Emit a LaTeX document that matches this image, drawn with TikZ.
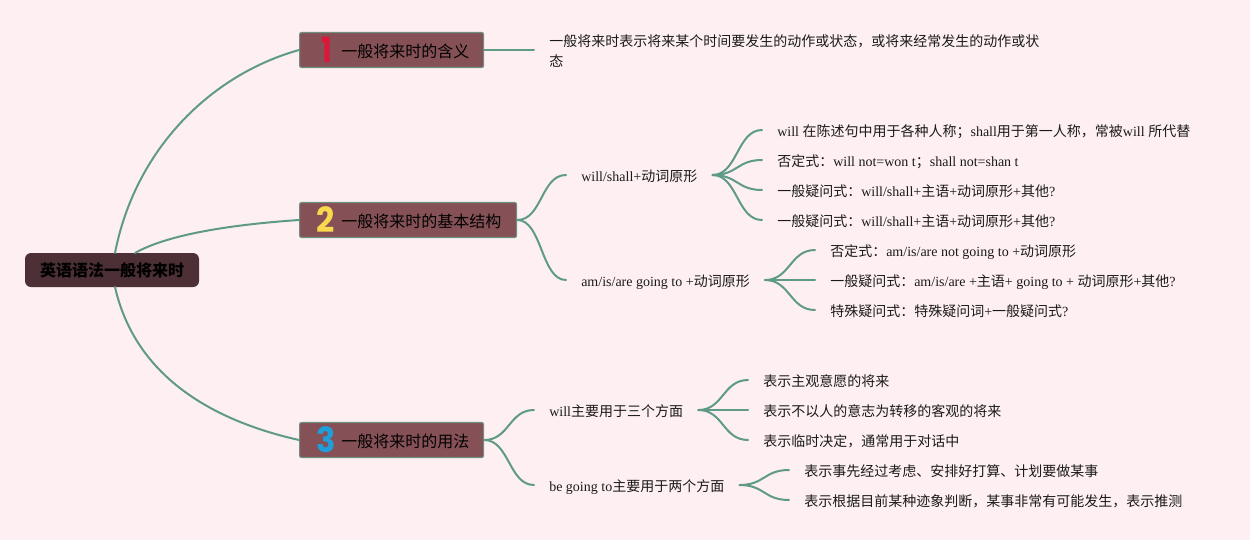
\documentclass[tikz,border=0pt]{standalone}
\usepackage{fontspec}
\usepackage{graphicx}
\setmainfont{Liberation Serif}
\newfontfamily\cjk{Noto Sans CJK SC}
\newfontfamily\numfont{Poppins}
\newcommand{\zh}[1]{{\cjk #1}}
\definecolor{bgc}{HTML}{FEF0F2}
\definecolor{rootc}{HTML}{4D3036}
\definecolor{topicc}{HTML}{855156}
\definecolor{edgec}{HTML}{6F8F80}
\definecolor{linec}{HTML}{5F9A87}
\definecolor{txtc}{HTML}{1A1A1A}
\definecolor{numa}{HTML}{E0153A}
\definecolor{numb}{HTML}{F9D84E}
\definecolor{numc}{HTML}{1E9FDC}
\usetikzlibrary{calc}
\tikzset{
  x=0.75pt,y=-0.75pt,
  rootbox/.style={fill=rootc,rounded corners=4.5pt,inner sep=0pt,font=\cjk\bfseries\fontsize{12}{14}\selectfont,text=black},
  topicbox/.style={fill=topicc,draw=edgec,line width=0.9pt,rounded corners=1.5pt,inner sep=0pt,anchor=west},
  topictext/.style={anchor=west,inner sep=0pt,font=\cjk\fontsize{12}{14}\selectfont,text=black},
  leafbase/.style={anchor=west,inner ysep=0pt,inner xsep=11.25pt,font=\fontsize{10.5}{15}\selectfont,text=txtc,align=left},
  leaf/.style={leafbase,text height=11pt,text depth=2pt},
  conn/.style={draw=linec,line width=1.5pt,line cap=round},
  numstyle/.style={font=\numfont\bfseries\fontsize{26}{26}\selectfont,inner sep=0pt},
}
\newcommand{\fork}[2]{\draw[conn] (#1.east) .. controls ($(#1.east)+(25,0)$) and ($(#2.west)+(-25,0)$) .. (#2.west);}
\begin{document}
\begin{tikzpicture}
\useasboundingbox[fill=bgc] (0,0) rectangle (1250,540);
% root & topics
\node[rootbox,minimum width=130.5pt,minimum height=25.5pt] (root) at (112,270) {英语语法一般将来时};
\node[topicbox,minimum width=138pt,minimum height=26.25pt] (t1) at (299,50) {};
\node[topicbox,minimum width=162.75pt,minimum height=26.25pt] (t2) at (299,220) {};
\node[topicbox,minimum width=138pt,minimum height=26.25pt] (t3) at (299,440) {};
\node[topictext] (t1t) at (341,51) {一般将来时的含义};
\node[topictext] (t2t) at (341,221) {一般将来时的基本结构};
\node[topictext] (t3t) at (341,441) {一般将来时的用法};
\node[numstyle,text=numa] (n1) at (327,50) {\scalebox{.8}[1]{1}};
\node[numstyle,text=numb] (n2) at (326,220) {\scalebox{.92}[1]{2}};
\node[numstyle,text=numc] (n3) at (326,440) {\scalebox{.92}[1]{3}};
% level 2
\node[leafbase] (d1) at (534,51) {\zh{一般将来时表示将来某个时间要发生的动作或状态，或将来经常发生的动作或状}\\\zh{态}};
\node[leaf] (s1) at (566,175) {will/shall+\zh{动词原形}};
\node[leaf] (s2) at (566,280) {am/is/are going to +\zh{动词原形}};
\node[leaf] (s3) at (534,410) {will\zh{主要用于三个方面}};
\node[leaf] (s4) at (534,485) {be going to\zh{主要用于两个方面}};
% level 3
\node[leaf] (a1) at (762,130) {will \zh{在陈述句中用于各种人称；}shall\zh{用于第一人称，常被}will \zh{所代替}};
\node[leaf] (a2) at (762,160) {\zh{否定式：}will not=won t\zh{；}shall not=shan t};
\node[leaf] (a3) at (762,190) {\zh{一般疑问式：}will/shall+\zh{主语}+\zh{动词原形}+\zh{其他}?};
\node[leaf] (a4) at (762,220) {\zh{一般疑问式：}will/shall+\zh{主语}+\zh{动词原形}+\zh{其他}?};
\node[leaf] (b1) at (815,250) {\zh{否定式：}am/is/are not going to +\zh{动词原形}};
\node[leaf] (b2) at (815,280) {\zh{一般疑问式：}am/is/are +\zh{主语}+ going to + \zh{动词原形}+\zh{其他}?};
\node[leaf] (b3) at (815,310) {\zh{特殊疑问式：特殊疑问词}+\zh{一般疑问式}?};
\node[leaf] (c1) at (748,380) {\zh{表示主观意愿的将来}};
\node[leaf] (c2) at (748,410) {\zh{表示不以人的意志为转移的客观的将来}};
\node[leaf] (c3) at (748,440) {\zh{表示临时决定，通常用于对话中}};
\node[leaf] (e1) at (789,470) {\zh{表示事先经过考虑、安排好打算、计划要做某事}};
\node[leaf] (e2) at (789,500) {\zh{表示根据目前某种迹象判断，某事非常有可能发生，表示推测}};
% connectors
\coordinate (r1) at (115,253);
\coordinate (r2) at (135,253);
\coordinate (r3) at (115,287);
\draw[conn] (r1) .. controls (135,150) and (210,75) .. (t1.west);
\draw[conn] (r2) .. controls (170,233) and (240,224) .. (t2.west);
\draw[conn] (r3) .. controls (135,375) and (210,420) .. (t3.west);
\draw[conn] (t1.east) -- (t1.east -| d1.west);
\fork{t2}{s1}\fork{t2}{s2}
\fork{t3}{s3}\fork{t3}{s4}
\fork{s1}{a1}\fork{s1}{a2}\fork{s1}{a3}\fork{s1}{a4}
\fork{s2}{b1}\fork{s2}{b2}\fork{s2}{b3}
\fork{s3}{c1}\fork{s3}{c2}\fork{s3}{c3}
\fork{s4}{e1}\fork{s4}{e2}
\end{tikzpicture}
\end{document}
